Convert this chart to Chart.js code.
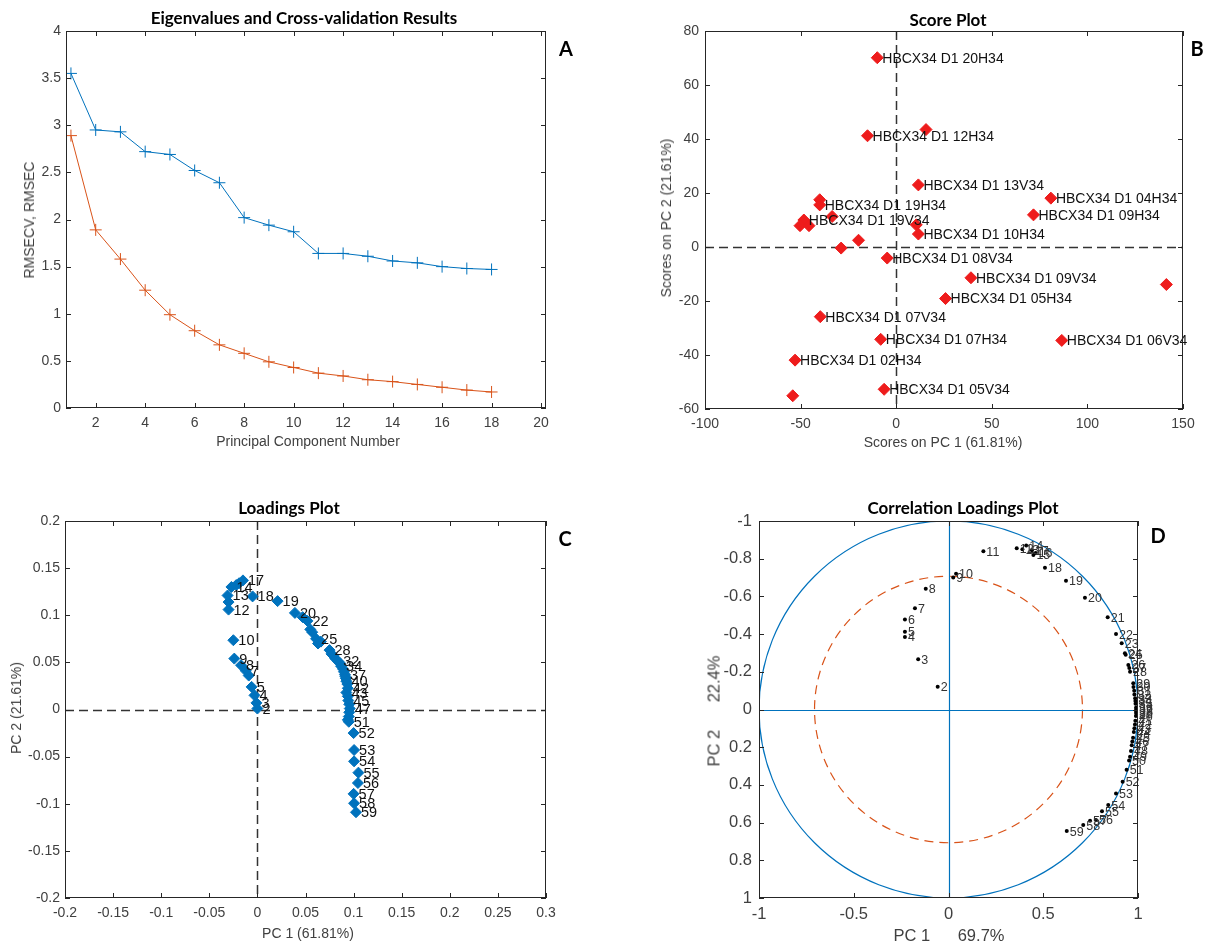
<!DOCTYPE html>
<html>
<head>
<meta charset="utf-8">
<title>PCA results</title>
<script src="https://cdn.jsdelivr.net/npm/chart.js@4.4.1/dist/chart.umd.min.js"></script>
<style>
  body { margin: 0; background: #fff; width: 1210px; height: 945px; position: relative; overflow: hidden;
         font-family: "Liberation Sans", Arial, sans-serif; }
  canvas { position: absolute; }
  .t { position: absolute; white-space: pre; transform: translate(-50%, -50%); }
  .title { font-family: Lato, sans-serif; font-weight: bold; font-size: 17px; color: #000; }
  .letter { font-family: Lato, sans-serif; font-weight: bold; font-size: 20px; color: #000; }
  .ax { font-size: 14px; color: #404040; }
  .axd { font-size: 16.5px; color: #404040; }
  .rot { transform: translate(-50%, -50%) rotate(-90deg); }
</style>
</head>
<body>
<canvas id="chartA" width="605" height="460" style="left:0;top:0"></canvas>
<canvas id="chartB" width="605" height="460" style="left:605px;top:0"></canvas>
<canvas id="chartC" width="605" height="475" style="left:0;top:470px"></canvas>
<canvas id="chartD" width="605" height="475" style="left:605px;top:470px"></canvas>

<div class="t title" style="left:304px;top:17px">Eigenvalues and Cross-validation Results</div>
<div class="t letter" style="left:566px;top:48px">A</div>
<div class="t ax" style="left:308px;top:441px">Principal Component Number</div>
<div class="t ax rot" style="left:29px;top:220px">RMSECV, RMSEC</div>

<div class="t title" style="left:948px;top:19px">Score Plot</div>
<div class="t letter" style="left:1197px;top:48px">B</div>
<div class="t ax" style="left:943px;top:442px">Scores on PC 1 (61.81%)</div>
<div class="t ax rot" style="left:666px;top:218px">Scores on PC 2 (21.61%)</div>

<div class="t title" style="left:289px;top:507px">Loadings Plot</div>
<div class="t letter" style="left:565px;top:538px">C</div>
<div class="t ax" style="left:308px;top:933px">PC 1 (61.81%)</div>
<div class="t ax rot" style="left:16px;top:708px">PC 2 (21.61%)</div>

<div class="t title" style="left:963px;top:507px">Correlation Loadings Plot</div>
<div class="t letter" style="left:1158px;top:535px">D</div>
<div class="t axd" style="left:949px;top:935px">PC 1      69.7%</div>
<div class="t axd rot" style="left:714px;top:711px">PC 2      22.4%</div>

<script>
// ---- A: eigenvalues / cross-validation
const pcNumber = [1, 2, 3, 4, 5, 6, 7, 8, 9, 10, 11, 12, 13, 14, 15, 16, 17, 18];
const rmsecv = [3.55, 2.95, 2.93, 2.72, 2.69, 2.52, 2.39, 2.02, 1.94, 1.87, 1.64, 1.64, 1.61, 1.56, 1.54, 1.50, 1.48, 1.47];
const rmsec = [2.89, 1.89, 1.58, 1.25, 0.99, 0.82, 0.67, 0.58, 0.49, 0.43, 0.37, 0.34, 0.30, 0.28, 0.25, 0.22, 0.19, 0.17];
const xTicksA = [2, 4, 6, 8, 10, 12, 14, 16, 18, 20];
const yTicksA = [0, 0.5, 1, 1.5, 2, 2.5, 3, 3.5, 4];

// ---- B: score plot
const scoreX = [-9.9, -15.0, 15.6, 11.6, 80.9, 71.8, -40.0, -40.0, -33.5, -48.3, -50.3, -45.6, 10.5,
                11.6, -19.7, -28.8, -4.7, 39.1, 141.3, 25.8, -39.7, -8.1, 86.6, -52.9, -6.3, -54.1];
const scoreY = [70.1, 41.2, 43.5, 23.0, 18.1, 11.9, 17.5, 15.6, 11.3, 10.0, 7.9, 7.9, 8.2,
                4.8, 2.5, -0.4, -4.1, -11.4, -13.9, -19.1, -25.8, -34.2, -34.6, -41.9, -52.7, -55.1];
const scoreNames = ["HBCX34 D1 20H34", "HBCX34 D1 12H34", "", "HBCX34 D1 13V34", "HBCX34 D1 04H34",
                    "HBCX34 D1 09H34", "", "HBCX34 D1 19H34", "", "HBCX34 D1 19V34", "", "", "",
                    "HBCX34 D1 10H34", "", "", "HBCX34 D1 08V34", "HBCX34 D1 09V34", "", "HBCX34 D1 05H34",
                    "HBCX34 D1 07V34", "HBCX34 D1 07H34", "HBCX34 D1 06V34", "HBCX34 D1 02H34",
                    "HBCX34 D1 05V34", ""];
const xTicksB = [-100, -50, 0, 50, 100, 150];
const yTicksB = [-60, -40, -20, 0, 20, 40, 60, 80];

// ---- C: loadings (variables 2..59)
const varIds = [2, 3, 4, 5, 6, 7, 8, 9, 10, 11, 12, 13, 14, 15, 16, 17, 18, 19, 20, 21, 22, 23, 24, 25, 26, 27, 28, 29, 30,
                31, 32, 33, 34, 35, 36, 37, 38, 39, 40, 41, 42, 43, 44, 45, 46, 47, 48, 49, 50, 51, 52, 53, 54, 55, 56, 57, 58, 59];
const loadX = [0.000, -0.001, -0.003, -0.006, -0.009, -0.012, -0.017, -0.024, -0.025, -0.030, -0.030, -0.031, -0.027,
               -0.022, -0.019, -0.015, -0.005, 0.021, 0.039, 0.047, 0.052, 0.055, 0.057, 0.061, 0.063, 0.066, 0.075,
               0.077, 0.079, 0.081, 0.084, 0.086, 0.087, 0.089, 0.090, 0.091, 0.0915, 0.092, 0.0925, 0.0935, 0.094,
               0.0925, 0.094, 0.0945, 0.0955, 0.096, 0.0955, 0.095, 0.094, 0.095, 0.100, 0.1005, 0.1005, 0.105,
               0.1045, 0.100, 0.1005, 0.1025];
const loadY = [0.001, 0.007, 0.015, 0.024, 0.036, 0.041, 0.047, 0.054, 0.0735, 0.114, 0.106, 0.121, 0.130,
               0.132, 0.134, 0.137, 0.120, 0.115, 0.1025, 0.098, 0.094, 0.085, 0.082, 0.075, 0.070, 0.072, 0.063,
               0.059, 0.057, 0.054, 0.051, 0.049, 0.046, 0.043, 0.040, 0.037, 0.035, 0.033, 0.030, 0.027, 0.0225,
               0.018, 0.014, 0.0095, 0.0055, 0.001, -0.003, -0.0075, -0.011, -0.013, -0.025, -0.043, -0.055, -0.067,
               -0.078, -0.0895, -0.0995, -0.109];
const shownC = [2, 3, 4, 5, 7, 8, 9, 10, 12, 13, 14, 17, 18, 19, 20, 22, 25, 28, 32, 34, 37, 40, 42, 43, 45, 47,
                51, 52, 53, 54, 55, 56, 57, 58, 59];
const xTicksC = [-0.2, -0.15, -0.1, -0.05, 0, 0.05, 0.1, 0.15, 0.2, 0.25, 0.3];
const yTicksC = [-0.2, -0.15, -0.1, -0.05, 0, 0.05, 0.1, 0.15, 0.2];

// ---- D: correlation loadings (variables 2..59)
const corrX = [-0.057, -0.16, -0.23, -0.23, -0.23, -0.177, -0.12, 0.025, 0.04, 0.184, 0.36, 0.39, 0.41,
               0.448, 0.46, 0.44, 0.509, 0.62, 0.72, 0.84, 0.884, 0.914, 0.931, 0.935, 0.949, 0.954, 0.958,
               0.975, 0.976, 0.98, 0.981, 0.985, 0.986, 0.987, 0.99, 0.99, 0.99, 0.99, 0.989, 0.986, 0.984,
               0.981, 0.978, 0.974, 0.97, 0.967, 0.963, 0.958, 0.953, 0.94, 0.919, 0.884, 0.843, 0.81, 0.778,
               0.747, 0.711, 0.624];
const corrY = [-0.121, -0.266, -0.385, -0.413, -0.478, -0.537, -0.64, -0.70, -0.72, -0.84, -0.855, -0.85, -0.87,
               -0.82, -0.83, -0.845, -0.752, -0.683, -0.593, -0.49, -0.40, -0.351, -0.298, -0.29, -0.236, -0.22,
               -0.20, -0.139, -0.12, -0.10, -0.08, -0.06, -0.045, -0.03, -0.01, 0.0, 0.01, 0.02, 0.035, 0.06, 0.08,
               0.10, 0.12, 0.15, 0.17, 0.19, 0.22, 0.25, 0.27, 0.32, 0.383, 0.445, 0.507, 0.54, 0.586, 0.59,
               0.613, 0.645];
const xTicksD = [-1, -0.5, 0, 0.5, 1];
const yTicksD = [-1, -0.8, -0.6, -0.4, -0.2, 0, 0.2, 0.4, 0.6, 0.8, 1];
const circleRadii = [1, 0.707];

const BLUE = '#0072BD', ORANGE = '#D95319';

const framePlugin = {
  id: 'frame',
  beforeDatasetsDraw(chart, args, opts) {
    const { ctx, chartArea: a, scales: { x, y } } = chart;
    ctx.save();
    ctx.beginPath();
    ctx.rect(a.left, a.top, a.width, a.height);
    ctx.clip();
    if (opts.circles) {
      const cx = x.getPixelForValue(0), cy = y.getPixelForValue(0);
      opts.circles.forEach((c) => {
        const rx = Math.abs(x.getPixelForValue(c.r) - cx);
        const ry = Math.abs(y.getPixelForValue(c.r) - cy);
        ctx.strokeStyle = c.color;
        ctx.lineWidth = c.width;
        ctx.setLineDash(c.dash || []);
        ctx.beginPath();
        ctx.ellipse(cx, cy, rx, ry, 0, 0, Math.PI * 2);
        ctx.stroke();
      });
    }
    if (opts.zero) {
      const px = Math.round(x.getPixelForValue(0)) + 0.5, py = Math.round(y.getPixelForValue(0)) + 0.5;
      ctx.strokeStyle = opts.zero.color;
      ctx.lineWidth = opts.zero.width;
      ctx.setLineDash(opts.zero.dash || []);
      ctx.beginPath();
      ctx.moveTo(px, a.top); ctx.lineTo(px, a.bottom);
      ctx.moveTo(a.left, py); ctx.lineTo(a.right, py);
      ctx.stroke();
    }
    ctx.restore();
  },
  afterDatasetsDraw(chart, args, opts) {
    const { ctx, chartArea: a, scales: { x, y } } = chart;
    ctx.save();
    // point labels
    chart.data.datasets.forEach((ds, i) => {
      if (!ds.pointLabels) return;
      ctx.font = ds.labelFont;
      ctx.fillStyle = ds.labelColor || '#111';
      ctx.textAlign = 'left';
      ctx.textBaseline = 'middle';
      chart.getDatasetMeta(i).data.forEach((pt, j) => {
        const s = ds.pointLabels[j];
        if (s) ctx.fillText(s, pt.x + ds.labelDx, pt.y + 1);
      });
    });
    // box and inward ticks
    ctx.strokeStyle = '#262626';
    ctx.lineWidth = 1;
    ctx.strokeRect(a.left + 0.5, a.top + 0.5, a.width - 1, a.height - 1);
    ctx.beginPath();
    x.ticks.forEach((t) => {
      const p = Math.round(x.getPixelForValue(t.value)) + 0.5;
      ctx.moveTo(p, a.bottom); ctx.lineTo(p, a.bottom - 5);
      ctx.moveTo(p, a.top); ctx.lineTo(p, a.top + 5);
    });
    y.ticks.forEach((t) => {
      const p = Math.round(y.getPixelForValue(t.value)) + 0.5;
      ctx.moveTo(a.left, p); ctx.lineTo(a.left + 5, p);
      ctx.moveTo(a.right, p); ctx.lineTo(a.right - 5, p);
    });
    ctx.stroke();
    ctx.restore();
  }
};

function axis(min, max, ticks, fixed, horizontal, fontSize, pad, extra) {
  return Object.assign({
    type: 'linear', min: min, max: max,
    grid: { display: false, drawTicks: false }, border: { display: false },
    afterBuildTicks: (s) => { s.ticks = ticks.map((v) => ({ value: v })); },
    afterFit: (s) => { if (horizontal) s.height = fixed; else s.width = fixed; },
    ticks: { font: { family: '"Liberation Sans", Arial', size: fontSize }, color: '#404040',
             padding: pad, maxRotation: 0, autoSkip: false,
             callback: (v) => String(v) }
  }, extra || {});
}

function baseOptions(pad, xAxis, yAxis, frame) {
  return {
    responsive: false, animation: false, events: [],
    layout: { padding: pad },
    plugins: { legend: { display: false }, tooltip: { enabled: false }, frame: frame },
    scales: { x: xAxis, y: yAxis }
  };
}

// A
new Chart(document.getElementById('chartA'), {
  type: 'line',
  data: {
    datasets: [
      { data: pcNumber.map((n, i) => ({ x: n, y: rmsecv[i] })), borderColor: BLUE, borderWidth: 1,
        pointStyle: 'cross', pointRadius: 6, pointBorderColor: BLUE, pointBorderWidth: 1, tension: 0 },
      { data: pcNumber.map((n, i) => ({ x: n, y: rmsec[i] })), borderColor: ORANGE, borderWidth: 1,
        pointStyle: 'cross', pointRadius: 6, pointBorderColor: ORANGE, pointBorderWidth: 1, tension: 0 }
    ]
  },
  options: baseOptions({ top: 31, right: 59, left: 0, bottom: 0 },
    axis(0.8, 20.2, xTicksA, 52, true, 14, 7),
    axis(0, 4, yTicksA, 66, false, 14, 5), {}),
  plugins: [framePlugin]
});

// B
new Chart(document.getElementById('chartB'), {
  type: 'scatter',
  data: {
    datasets: [{
      data: scoreX.map((v, i) => ({ x: v, y: scoreY[i] })),
      pointStyle: 'rectRot', pointRadius: 6, backgroundColor: '#ee1c1c', borderColor: '#ee1c1c', borderWidth: 1,
      pointLabels: scoreNames, labelFont: '14px "Liberation Sans", Arial', labelDx: 5
    }]
  },
  options: baseOptions({ top: 31, right: 27, left: 0, bottom: 0 },
    axis(-100, 150, xTicksB, 51, true, 14, 7),
    axis(-60, 80, yTicksB, 100, false, 14, 6),
    { zero: { color: '#333', width: 1.5, dash: [9, 5] } }),
  plugins: [framePlugin]
});

// C
new Chart(document.getElementById('chartC'), {
  type: 'scatter',
  data: {
    datasets: [{
      data: loadX.map((v, i) => ({ x: v, y: loadY[i] })),
      pointStyle: 'rectRot', pointRadius: 5.5, backgroundColor: BLUE, borderColor: BLUE, borderWidth: 1,
      pointLabels: varIds.map((id) => (shownC.includes(id) ? String(id) : '')),
      labelFont: '14.5px "Liberation Sans", Arial', labelDx: 5
    }]
  },
  options: baseOptions({ top: 51, right: 59, left: 0, bottom: 0 },
    axis(-0.2, 0.3, xTicksC, 47, true, 14, 7),
    axis(-0.2, 0.2, yTicksC, 65, false, 14, 5),
    { zero: { color: '#333', width: 1.5, dash: [9, 5] } }),
  plugins: [framePlugin]
});

// D
new Chart(document.getElementById('chartD'), {
  type: 'scatter',
  data: {
    datasets: [{
      data: corrX.map((v, i) => ({ x: v, y: corrY[i] })),
      pointStyle: 'circle', pointRadius: 2, backgroundColor: '#000', borderColor: '#000', borderWidth: 0,
      pointLabels: varIds.map(String), labelFont: '12.5px "Liberation Sans", Arial', labelDx: 3,
      labelColor: '#333'
    }]
  },
  options: baseOptions({ top: 51, right: 72, left: 0, bottom: 0 },
    axis(-1, 1, xTicksD, 47, true, 16.5, 7),
    axis(-1, 1, yTicksD, 154, false, 16.5, 7, { reverse: true }),
    { zero: { color: BLUE, width: 1.2, dash: [] },
      circles: [{ r: circleRadii[0], color: BLUE, width: 1.2 },
                { r: circleRadii[1], color: ORANGE, width: 1.2, dash: [9, 6] }] }),
  plugins: [framePlugin]
});
</script>
</body>
</html>
